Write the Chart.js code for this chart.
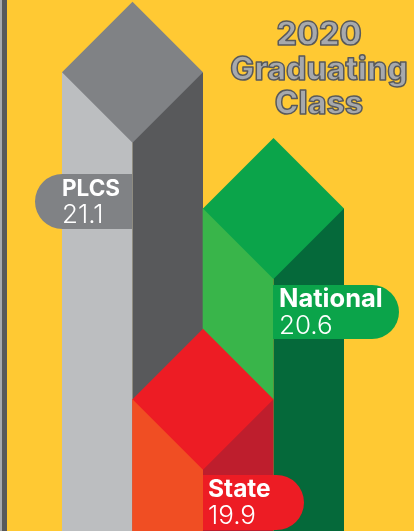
<!DOCTYPE html>
<html>
<head>
<meta charset="utf-8">
<script src="https://cdn.jsdelivr.net/npm/chart.js@4"></script>
<style>
	html, body { margin: 0; padding: 0; background: #FFC933; overflow: hidden; }
	canvas { display: block; }
</style>
</head>
<body>
<canvas id="myChart" width="414" height="531"></canvas>
<script>
// left to right, the way the front faces sit next to each other
const categories = ["PLCS", "State", "National"];
const values = [21.1, 19.9, 20.6];
const titleLines = ["2020", "Graduating", "Class"];

// faces of each column
const leftColors = ["#BCBEC0", "#F04E23", "#39B54A"];
const topColors = ["#808285", "#ED1C24", "#0BA44A"];
const rightColors = ["#58595B", "#BE1E2D", "#05693A"];
// lower number is painted last
const layers = [3, 1, 2];

// label tags: left, top, right, bottom, which side is round
const tags = [
	{ l: 35, t: 174, r: 132, b: 229, round: "left", textX: 62, nameSize: 22.5 },
	{ l: 203, t: 475, r: 304, b: 530, round: "right", textX: 208, nameSize: 24.5 },
	{ l: 273, t: 285, r: 399, b: 339, round: "right", textX: 279, nameSize: 25.5 },
];

function drawColumn(ctx, bar, i) {
	const w = bar.width;
	const cx = bar.x + w / 2;
	const y = bar.y;

	// right face, starts under the diamond so no seam shows
	ctx.fillStyle = rightColors[i];
	ctx.beginPath();
	ctx.moveTo(cx, y);
	ctx.lineTo(cx + w, y);
	ctx.lineTo(cx + w, bar.base);
	ctx.lineTo(cx, bar.base);
	ctx.closePath();
	ctx.fill();

	// top diamond
	ctx.fillStyle = topColors[i];
	ctx.beginPath();
	ctx.moveTo(cx - w, y);
	ctx.lineTo(cx, y - w);
	ctx.lineTo(cx + w, y);
	ctx.lineTo(cx, y + w);
	ctx.closePath();
	ctx.fill();
}

function drawTag(ctx, tag, i) {
	const rad = (tag.b - tag.t) / 2;
	const radii = tag.round == "left" ? [rad, 0, 0, rad] : [0, rad, rad, 0];
	ctx.fillStyle = topColors[i];
	ctx.beginPath();
	ctx.roundRect(tag.l, tag.t, tag.r - tag.l, tag.b - tag.t, radii);
	ctx.fill();

	ctx.fillStyle = "#FFFFFF";
	ctx.textAlign = "left";
	ctx.textBaseline = "alphabetic";
	ctx.font = "700 " + tag.nameSize + "px Inter";
	ctx.fillText(categories[i], tag.textX, tag.t + 21.5);
	ctx.font = "300 26px Inter";
	ctx.fillText(values[i].toFixed(1), tag.textX, tag.t + 48.5);
}

const columnsPlugin = {
	id: "columns",
	beforeDraw(chart) {
		const ctx = chart.ctx;
		ctx.fillStyle = "#FFC933";
		ctx.fillRect(0, 0, 414, 531);
		// strip down the left edge
		ctx.fillStyle = "#A7A9AC";
		ctx.fillRect(0, 0, 2, 531);
		ctx.fillStyle = "#58595B";
		ctx.fillRect(2, 0, 5, 531);
	},
	afterDatasetDraw(chart, args) {
		const i = args.index;
		drawColumn(chart.ctx, args.meta.data[i], i);
	},
	afterDatasetsDraw(chart) {
		const ctx = chart.ctx;
		tags.forEach((tag, i) => drawTag(ctx, tag, i));
	},
	afterDraw(chart) {
		const ctx = chart.ctx;
		ctx.font = "800 32px Inter";
		ctx.textAlign = "center";
		ctx.textBaseline = "alphabetic";
		ctx.lineJoin = "round";
		ctx.lineWidth = 1.5;
		titleLines.forEach((line, i) => {
			const y = 45 + i * 34.5;
			ctx.fillStyle = "#A7A9AC";
			ctx.fillText(line, 319, y);
			ctx.strokeStyle = "#58595B";
			ctx.strokeText(line, 319, y);
		});
	},
};

new Chart(document.getElementById("myChart").getContext("2d"), {
	type: "bar",
	data: {
		labels: categories,
		datasets: categories.map((name, i) => ({
			label: name,
			data: values.map((v, j) => (j == i ? v : null)),
			backgroundColor: leftColors[i],
			order: layers[i],
			grouped: false,
			barPercentage: 1,
			categoryPercentage: 1,
		})),
	},
	options: {
		responsive: false,
		animation: false,
		layout: { padding: { left: 62, right: 140.5, top: 0, bottom: 0 } },
		plugins: {
			legend: { display: false },
			title: { display: false },
			tooltip: { enabled: false },
		},
		scales: {
			x: { display: false },
			y: { display: false, min: 19.417, max: 21.365 },
		},
	},
	plugins: [columnsPlugin],
});
</script>
</body>
</html>
